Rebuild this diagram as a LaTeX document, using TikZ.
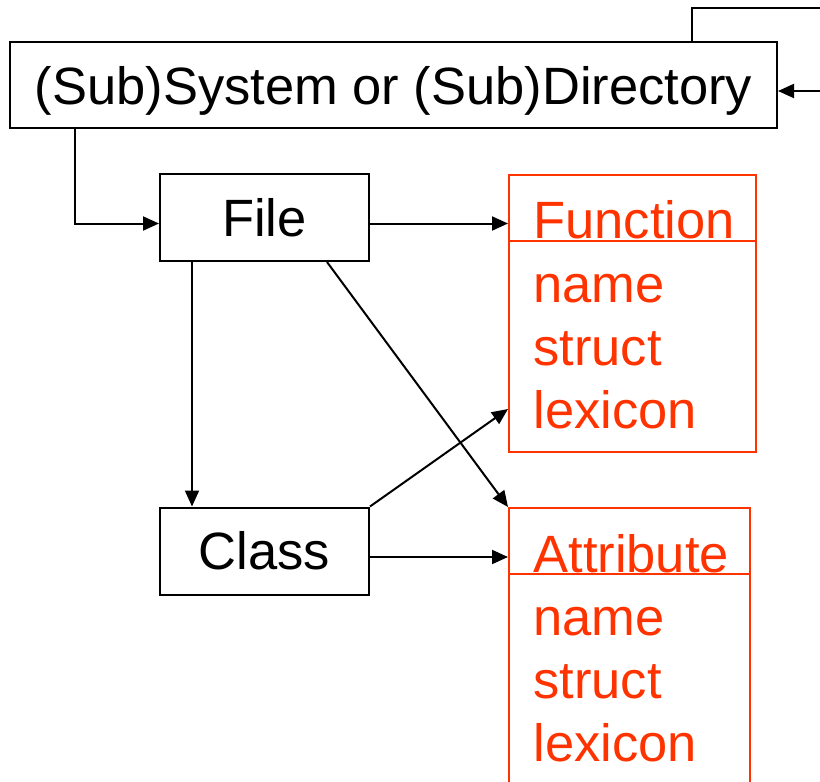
\documentclass[tikz,border=0pt]{standalone}
\usepackage{fontspec}
\setmainfont{Liberation Sans}
\usepackage{tikz}
\usepackage{xcolor}
\usetikzlibrary{arrows.meta, positioning}
\definecolor{umlRed}{RGB}{255,51,0}

\begin{document}
\begin{tikzpicture}[x=0.5pt, y=-0.5pt,
    every node/.style={font=\fontsize{26.25}{31.5}\selectfont, inner sep=0pt},
    plainbox/.style={draw, line width=1pt, minimum width=104.5pt, minimum height=43.5pt},
    umlbox/.style={draw=umlRed, line width=1pt},
    member/.style={text=umlRed, anchor=base west},
    arr/.style={-{Triangle[length=8pt,width=7pt]}, line width=1pt}]
  \useasboundingbox (0,0) rectangle (820,782);
  \clip (0,0) rectangle (820,782);

  \node[plainbox, minimum width=383.5pt, minimum height=43pt, text depth=0pt] (sys) at (393.5,85) {(Sub)System or (Sub)Directory};
  \node[plainbox] (file) at (264.5,217.5) {File};
  \node[plainbox] (class) at (264.5,551) {Class};

  % the two red boxes
  \node[umlbox, minimum width=123.5pt, minimum height=138.5pt] (func) at (632.5,313.5) {};
  \node[umlbox, minimum width=120.5pt, minimum height=146pt] (attr) at (629.5,654) {};
  \draw[umlRed, line width=1pt] (func.west |- 0,241) -- (func.east |- 0,241);
  \draw[umlRed, line width=1pt] (attr.west |- 0,574) -- (attr.east |- 0,574);
  \node[member] (funchead) at (533,238) {Function};
  \node[member] (attrhead) at (533,572) {Attribute};
  \foreach \txt [count=\i] in {name,struct,lexicon} {
    \node[member] (fmem\i) at (533,239+63*\i) {\txt};
    \node[member] (amem\i) at (533,572+63*\i) {\txt};
  }

  % connectors
  \coordinate (loop) at (860,8);
  \draw[arr] ([xshift=-43pt]sys.north east) |- (loop) |- ([yshift=-3pt]sys.east);
  \draw[arr] ([xshift=33pt]sys.south west) |- ([yshift=-3pt]file.west);
  \draw[arr] ([yshift=-3pt]file.east) -- ([yshift=-3pt]file.east -| func.west);
  \draw[arr] ([xshift=16.5pt]file.south west) -- ([xshift=16.5pt]class.north west);
  \draw[arr] ([xshift=-21.5pt]file.south east) -- (attr.north west);
  \draw[arr] (class.north east) -- ([yshift=22pt]func.south west);
  \draw[arr] ([yshift=-3pt]class.east) -- ([yshift=-3pt]class.east -| attr.west);
\end{tikzpicture}
\end{document}
